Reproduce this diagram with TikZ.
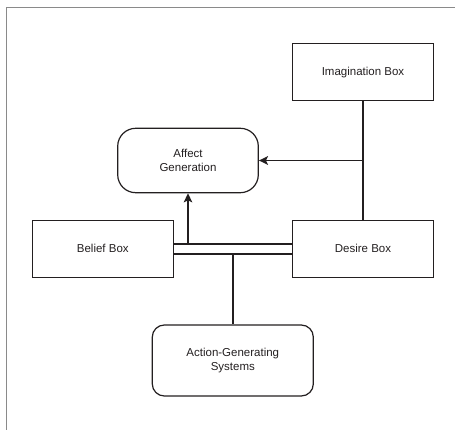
\documentclass[tikz,border=0pt]{standalone}
\usepackage{fontspec}
\setmainfont{Liberation Sans}
\usetikzlibrary{arrows.meta,calc}
\definecolor{ink}{HTML}{231F20}
\definecolor{frame}{HTML}{8A8A8A}
\begin{document}
\begin{tikzpicture}[x=1pt,y=-1pt,
  box/.style={draw=ink,line width=1.2pt,minimum width=140.6pt,minimum height=57pt,inner sep=0pt,align=center,font=\fontsize{11.5}{13.3}\selectfont,text=ink},
  rbox/.style={box,rounded corners=18pt},
  conn/.style={draw=ink,line width=1.9pt},
  arr/.style={conn,-{Stealth[length=9pt,width=8.5pt,inset=2pt]}}]
\useasboundingbox (0,0) rectangle (455,430);
\draw[frame,line width=0.8pt] (455,7) -- (6.5,7) -- (6.5,430);
\node[box] (imag) at (363,72.2) {Imagination Box};
\node[rbox,minimum height=64.4pt] (affect) at (188,160.5) {Affect\\Generation};
\node[box] (belief) at (102.8,248.8) {Belief Box};
\node[box] (desire) at (363,248.8) {Desire Box};
\node[box,rounded corners=12pt,minimum width=161pt,minimum height=71pt] (action) at (232.8,360.5) {Action-Generating\\Systems};
\draw[conn] ([yshift=4.8pt]belief.east) -- ([yshift=4.8pt]desire.west);
\draw[conn] ([yshift=-4.8pt]belief.east) -- ([yshift=-4.8pt]desire.west);
\draw[arr] ([yshift=4.8pt]belief.east -| affect.south) -- (affect.south);
\draw[conn] ([yshift=-4.8pt]belief.east -| action.north) -- (action.north);
\draw[conn] (imag.south) -- (desire.north);
\draw[arr] (imag.south |- affect.east) -- (affect.east);
\end{tikzpicture}
\end{document}
